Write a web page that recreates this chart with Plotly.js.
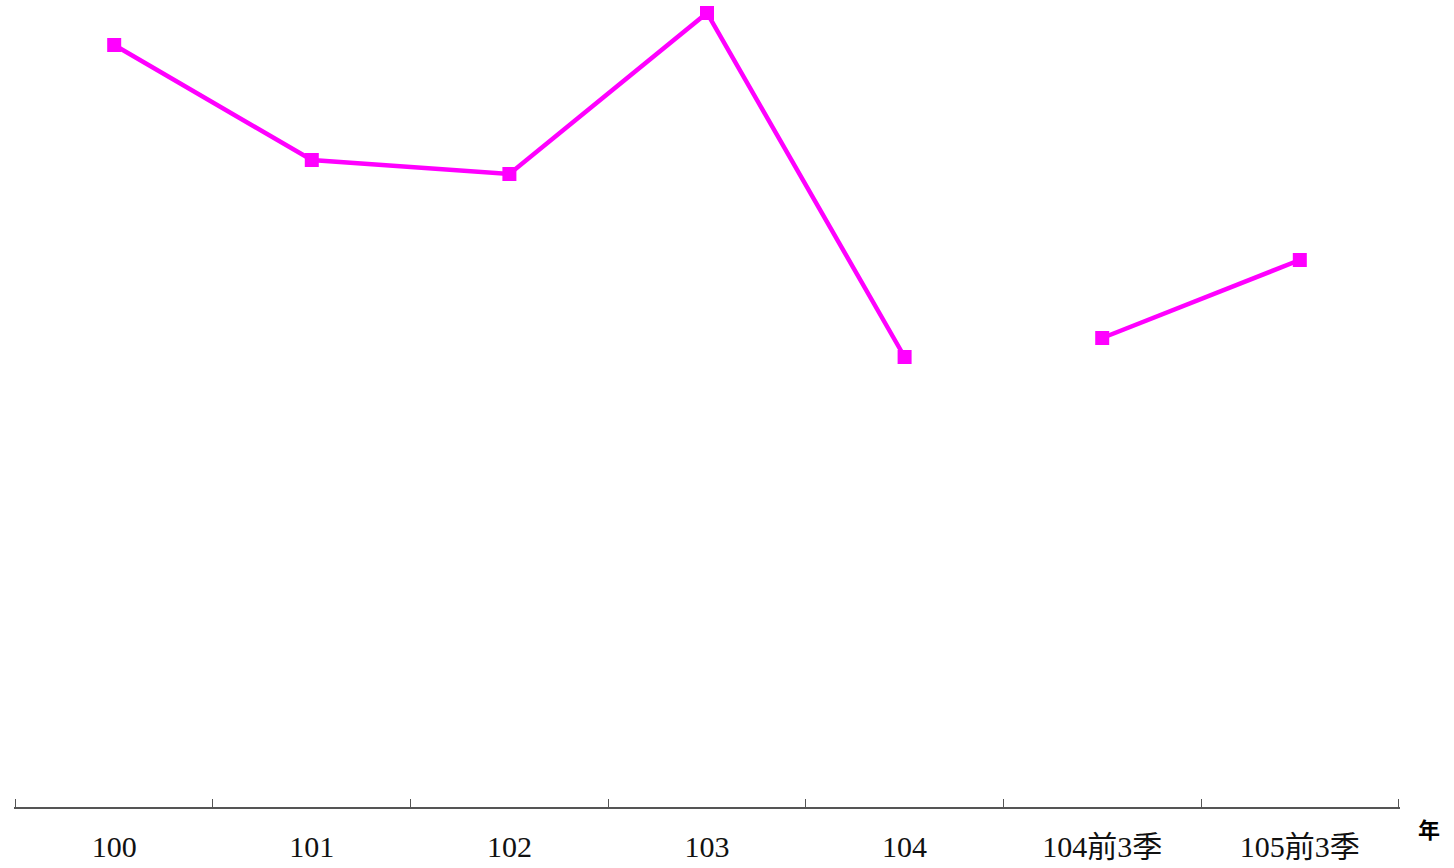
<!DOCTYPE html>
<html><head><meta charset="utf-8">
<script src="https://cdn.plot.ly/plotly-3.0.1.min.js"></script>
<style>html,body{margin:0;padding:0;background:#fff}#chart{width:1454px;height:868px}</style>
</head><body><div id="chart"></div>
<script>
const categories = ["100","101","102","103","104","104前3季","105前3季"];
const annualCats = ["100","101","102","103","104"];
const annualValues = [7.62, 6.47, 6.33, 7.94, 4.50];
const partialCats = ["104前3季","105前3季"];
const partialValues = [4.69, 5.47];
const xUnit = "年";

const lineStyle = {color:"#FF00FF", width:4.5};
const markerStyle = {symbol:"square", size:14, color:"#FF00FF"};
const traces = [
  {x:annualCats, y:annualValues, type:"scatter", mode:"lines+markers", line:lineStyle, marker:markerStyle, hoverinfo:"x+y"},
  {x:partialCats, y:partialValues, type:"scatter", mode:"lines+markers", line:lineStyle, marker:markerStyle, hoverinfo:"x+y"}
];
const layout = {
  width:1454, height:868,
  margin:{l:14, r:54, t:0, b:61},
  showlegend:false,
  paper_bgcolor:"#fff", plot_bgcolor:"#fff",
  xaxis:{
    type:"category", categoryorder:"array", categoryarray:categories,
    range:[-0.507, 6.507],
    showgrid:false, zeroline:false,
    showline:true, linecolor:"#555", linewidth:1.5,
    ticks:"inside", tickson:"boundaries", ticklen:8, tickcolor:"#555", tickwidth:1,
    ticklabelstandoff:12,
    tickfont:{family:"'Liberation Serif', 'Noto Sans CJK TC', serif", size:30, color:"#111"}
  },
  yaxis:{range:[0, 8.07], visible:false, showgrid:false, zeroline:false},
  annotations:[{
    text:"<b>"+xUnit+"</b>", xref:"paper", yref:"paper", x:1.021, y:-0.026,
    xanchor:"center", yanchor:"middle", showarrow:false,
    font:{family:"'Noto Sans CJK TC', sans-serif", size:22, color:"#000"}
  }]
};
Plotly.newPlot("chart", traces, layout, {displayModeBar:false, staticPlot:true});
</script></body></html>
